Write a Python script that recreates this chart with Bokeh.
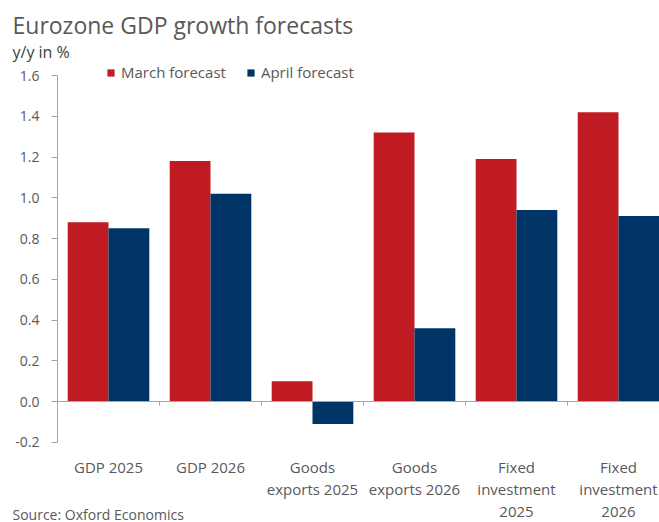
from bokeh.plotting import figure
from bokeh.models import (Range1d, FixedTicker, Label, Legend, LegendItem,
                          ColumnDataSource, CustomJSTickFormatter)
from bokeh.embed import file_html
from bokeh.resources import INLINE

categories = ["GDP 2025", "GDP 2026", "Goods\nexports 2025", "Goods\nexports 2026",
              "Fixed\ninvestment\n2025", "Fixed\ninvestment\n2026"]
march = [0.88, 1.18, 0.10, 1.32, 1.19, 1.42]
april = [0.85, 1.02, -0.11, 0.36, 0.94, 0.91]
y_ticks = [-0.2, 0.0, 0.2, 0.4, 0.6, 0.8, 1.0, 1.2, 1.4, 1.6]

RED = "#C01B22"
BLUE = "#003366"
FONT = "Open Sans"
GRAY_AX = "#A6A6A6"
TXT = "#595959"

W, H = 659, 522
# pixel layout of the plotting area (layout only, not data)
X0_PX, CAT_PX = 57, 102.0          # x of the value axis, width of one category
Y0_PX, UNIT_PX = 401, 203.75       # y of zero line, pixels per 1 percentage point

n = len(categories)
idx = list(range(n))
src = ColumnDataSource(dict(
    xm=[i + 0.3 for i in idx], xa=[i + 0.7 for i in idx],
    march=march, april=april))

p = figure(width=W, height=H, output_backend="svg", toolbar_location=None,
           x_range=Range1d(-X0_PX / CAT_PX, (W - X0_PX) / CAT_PX),
           y_range=Range1d(-(H - Y0_PX) / UNIT_PX, Y0_PX / UNIT_PX),
           min_border=0, min_border_left=0, min_border_right=0,
           min_border_top=0, min_border_bottom=0)
p.outline_line_color = None
p.xgrid.visible = False
p.ygrid.visible = False
p.background_fill_color = "white"
p.border_fill_color = "white"

rm = p.vbar(x="xm", top="march", width=0.4, bottom=0, source=src,
            fill_color=RED, line_color=None)
ra = p.vbar(x="xa", top="april", width=0.4, bottom=0, source=src,
            fill_color=BLUE, line_color=None)

# y axis (drawn at x = 0)
ya = p.yaxis[0]
ya.fixed_location = 0
ya.bounds = (y_ticks[0], y_ticks[-1])
ya.ticker = FixedTicker(ticks=y_ticks)
ya.formatter = CustomJSTickFormatter(code="return tick.toFixed(1);")
ya.axis_line_color = GRAY_AX
ya.major_tick_line_color = GRAY_AX
ya.major_tick_in = 0
ya.major_tick_out = 6
ya.minor_tick_line_color = None
ya.major_label_text_font = FONT
ya.major_label_text_font_size = "14px"
ya.major_label_text_color = TXT
ya.major_label_standoff = 12

# category axis (drawn at y = 0)
xa = p.xaxis[0]
xa.fixed_location = 0
xa.bounds = (0, n)
xa.ticker = FixedTicker(ticks=[i + 0.5 for i in idx], minor_ticks=list(range(1, n + 1)))
xa.major_label_overrides = {i + 0.5: categories[i] for i in idx}
xa.axis_line_color = GRAY_AX
xa.major_tick_line_color = None
xa.major_tick_in = 0
xa.major_tick_out = 0
xa.minor_tick_line_color = GRAY_AX
xa.minor_tick_in = 0
xa.minor_tick_out = 4
xa.major_label_standoff = 51
xa.major_label_text_font = FONT
xa.major_label_text_font_size = "15px"
xa.major_label_text_color = TXT
xa.major_label_text_line_height = 1.1

legend = Legend(items=[LegendItem(label="March forecast", renderers=[rm]),
                       LegendItem(label="April forecast", renderers=[ra])],
                orientation="horizontal", location=(106, H - 82),
                glyph_width=9, glyph_height=9, label_standoff=6, spacing=20,
                padding=0, margin=0, border_line_color=None,
                background_fill_alpha=0,
                label_text_font=FONT, label_text_font_size="15px",
                label_text_color=TXT, label_height=18)
p.add_layout(legend, "center")

p.add_layout(Label(x=12, y=H - 24, x_units="screen", y_units="screen",
                   text="Eurozone GDP growth forecasts", text_font=FONT,
                   text_baseline="alphabetic",
                   text_font_size="23px", text_color=TXT))
p.add_layout(Label(x=12, y=H - 51, x_units="screen", y_units="screen",
                   text="y/y in %", text_font=FONT, text_baseline="alphabetic",
                   text_font_size="16px", text_color="#404040"))
p.add_layout(Label(x=12, y=8, x_units="screen", y_units="screen",
                   text="Source: Oxford Economics", text_font=FONT,
                   text_baseline="alphabetic",
                   text_font_size="14px", text_color=TXT))

open("out.html", "w").write(file_html(p, INLINE))
